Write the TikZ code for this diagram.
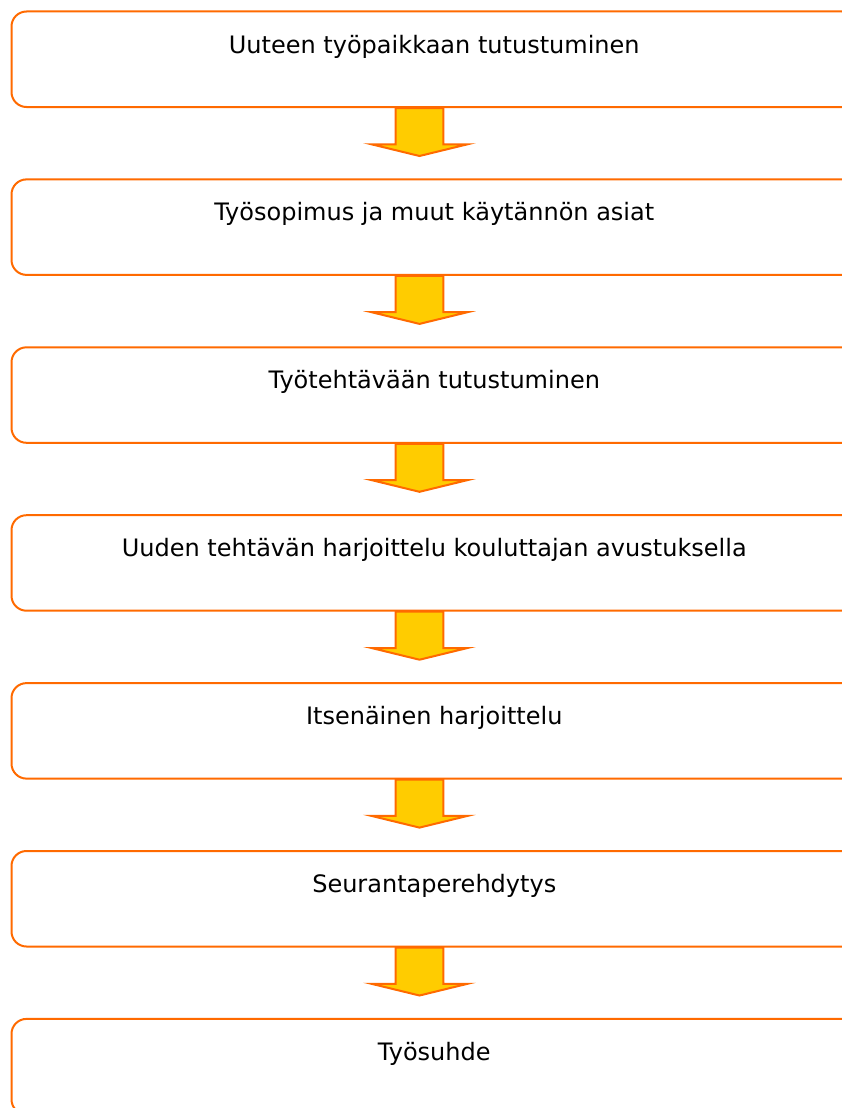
\documentclass[tikz,border=0pt]{standalone}
\usepackage{fontspec}
\setmainfont{DejaVu Sans}
\usepackage{tikz}
\usetikzlibrary{
    positioning,
    calc
}
\definecolor{lineorange}{HTML}{FF6A00}
\definecolor{arrowyellow}{HTML}{FFCC00}
\tikzset{
  stepbox/.style={draw=lineorange, line width=2pt, rounded corners=15pt,
    minimum width=845.5pt, inner xsep=0pt, inner ysep=0pt,
    text height=41.5pt, text depth=54pt, anchor=north,
    font=\fontsize{24}{28}\selectfont},
  blockarrow/.style={draw=lineorange, fill=arrowyellow, line width=2pt,
    line join=miter}
}
\begin{document}
\begin{tikzpicture}[x=1pt,y=1pt]
  \useasboundingbox (0,0) rectangle (842,-1108);
  \clip (0,0) rectangle (842,-1108);
  % vaiheet
  \foreach \i/\t in {1/Uuteen työpaikkaan tutustuminen,
                     2/Työsopimus ja muut käytännön asiat,
                     3/Työtehtävään tutustuminen,
                     4/Uuden tehtävän harjoittelu kouluttajan avustuksella,
                     5/Itsenäinen harjoittelu,
                     6/Seurantaperehdytys,
                     7/Työsuhde}
     {\node[stepbox] (b\i) at (434.25,{-10.5-167.9*(\i-1)}) {\t};}
  % nuolet
  \foreach \i in {1,...,6}
     {\coordinate (a\i) at ($(b\i.south)+(-14.75,0)$);
      \draw[blockarrow] (a\i) ++(-23.8,0) -- ++(0,-36.3) -- ++(-24.2,0)
        -- ++(48,-11.7) -- ++(48,11.7) -- ++(-24.2,0) -- ++(0,36.3) -- cycle;}
\end{tikzpicture}
\end{document}
